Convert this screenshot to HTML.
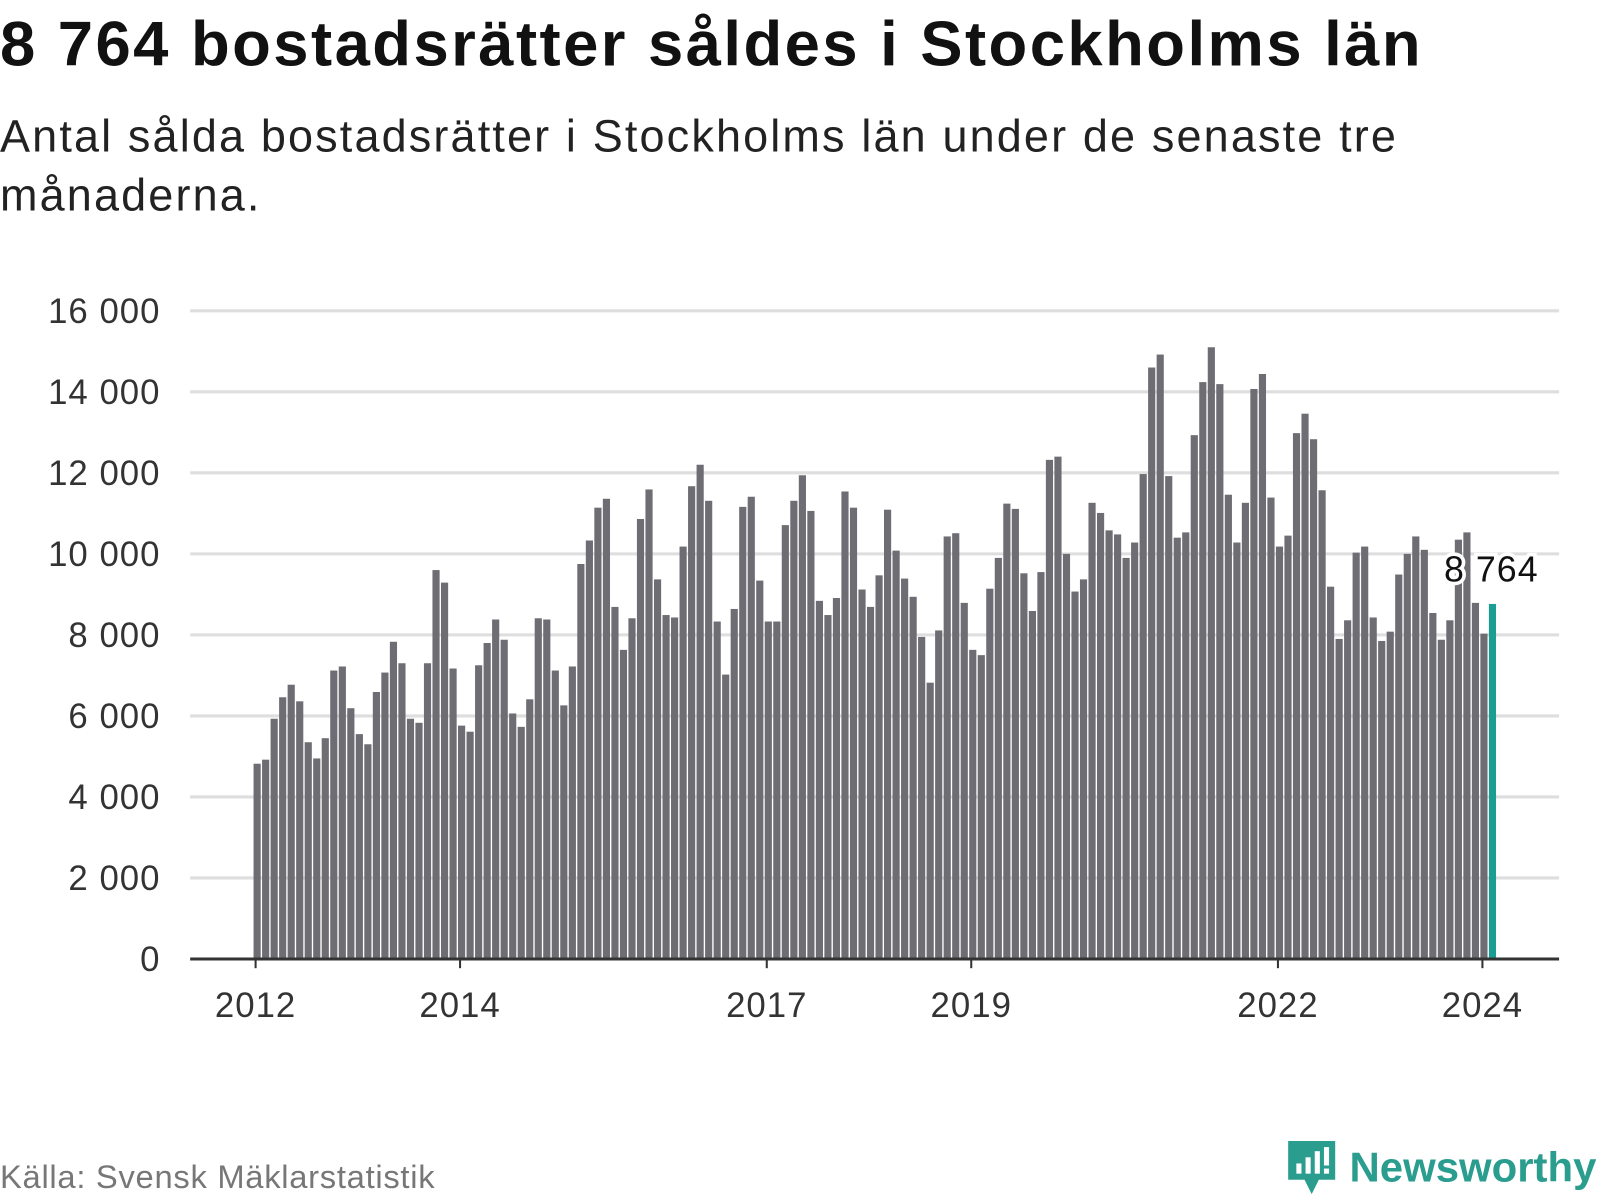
<!DOCTYPE html>
<html><head><meta charset="utf-8">
<style>
body{margin:0;background:#fff;font-family:"Liberation Sans",sans-serif;overflow:hidden;}
#outer{width:1600px;height:1200px;overflow:hidden;position:relative;}
#wrap{position:absolute;left:0;top:0;width:1565px;height:1174px;transform:scale(1.02236);transform-origin:0 0;}
h1{position:absolute;left:0;top:8px;margin:0;font-size:62px;font-weight:bold;color:#111;letter-spacing:2.4px;white-space:nowrap;}
.sub{position:absolute;left:0;top:105px;margin:0;font-size:44px;line-height:58px;color:#222;width:1400px;letter-spacing:2.1px;}
.src{position:absolute;left:0;top:1133px;font-size:32px;color:#777;letter-spacing:0.7px;}
.logo{position:absolute;left:1258px;top:1114px;font-size:41px;font-weight:bold;color:#2a9d8f;white-space:nowrap;}
</style></head><body>
<div id="outer">
<div id="wrap">
<h1>8 764 bostadsrätter såldes i Stockholms län</h1>
<p class="sub">Antal sålda bostadsrätter i Stockholms län under de senaste tre<br>månaderna.</p>
<svg id="chart" width="1565" height="1174" style="position:absolute;left:0;top:0"></svg>
<div class="src">Källa: Svensk Mäklarstatistik</div>
<div class="logo"><svg width="50" height="56" viewBox="0 0 50 56" style="vertical-align:middle;margin-right:12px"><path d="M2 2h46v38H32l-7 14-7-14H2z" fill="#2a9d8f"/><rect x="10" y="24" width="5" height="10" fill="#fff"/><rect x="19" y="18" width="5" height="16" fill="#fff"/><rect x="28" y="12" width="5" height="22" fill="#fff"/><rect x="37" y="8" width="5" height="18" fill="#fff"/><rect x="37" y="29" width="5" height="5" fill="#fff"/></svg><span style="vertical-align:middle">Newsworthy</span></div>
</div>
</div>
<script>
const values=[4820,4920,5930,6460,6770,6360,5350,4950,5450,7120,7220,6190,
5550,5300,6590,7070,7830,7300,5930,5830,7300,9600,9290,7170,
5760,5610,7250,7800,8380,7880,6060,5730,6410,8410,8380,7120,
6260,7220,9750,10330,11140,11360,8690,7630,8410,10860,11590,9370,
8490,8430,10180,11670,12200,11310,8330,7020,8640,11160,11410,9340,
8330,8330,10710,11310,11940,11060,8840,8490,8910,11540,11140,9120,
8690,9470,11090,10080,9390,8940,7950,6820,8110,10430,10510,8790,
7630,7500,9140,9900,11240,11110,9520,8590,9550,12320,12400,10000,
9070,9370,11260,11010,10580,10480,9900,10280,11970,14600,14920,11920,
10400,10530,12930,14240,15100,14190,11460,10280,11260,14070,14440,11390,
10180,10450,12980,13460,12830,11570,9190,7900,8360,10030,10180,8430,
7850,8080,9490,10000,10430,10100,8540,7880,8360,10350,10530,8790,
8030,8764];
const yTicks=[0,2000,4000,6000,8000,10000,12000,14000,16000];
const yTickLabels=["0","2 000","4 000","6 000","8 000","10 000","12 000","14 000","16 000"];
const xTickYears=[2012,2014,2017,2019,2022,2024];
const startYear=2012;
const NS="http://www.w3.org/2000/svg";
const svg=document.getElementById('chart');
const y0=938,yTop=304,yMax=16000,x2012=250,pxYear=100;
const y=v=>y0-(y0-yTop)*v/yMax;
const xm=i=>x2012+i*pxYear/12;
function mk(t,a){const e=document.createElementNS(NS,t);for(const k in a)e.setAttribute(k,a[k]);svg.appendChild(e);return e;}
yTicks.forEach((v,i)=>{
  if(v>0){const g=mk('line',{x1:186,x2:1525,y1:y(v),y2:y(v),stroke:'#dedede','stroke-width':3});
  
  }
  const t=mk('text',{x:157,y:y(v)+12,'text-anchor':'end','font-size':34,'letter-spacing':1,fill:'#333','font-family':'Liberation Sans, sans-serif'});
  t.textContent=yTickLabels[i];
  
  
});
values.forEach((v,i)=>{
  const last=i===values.length-1;
  const r=mk('rect',{x:xm(i)-2,y:y(v),width:7,height:y0-y(v),fill:last?'#1a9e93':'#6e6d73'});
  
  
});
const ax=mk('line',{x1:186,x2:1525,y1:y0,y2:y0,stroke:'#333','stroke-width':3});


xTickYears.forEach(yr=>{
  const x=x2012+(yr-startYear)*pxYear;
  const tk=mk('line',{x1:x,x2:x,y1:y0,y2:y0+9,stroke:'#333','stroke-width':2});
  
  
  const t=mk('text',{x:x,y:995,'text-anchor':'middle','font-size':34,'letter-spacing':1,fill:'#333','font-family':'Liberation Sans, sans-serif'});
  t.textContent=yr;
  
  
});
const lv=values[values.length-1];
const lbl=mk('text',{x:1505,y:y(lv)-22,'text-anchor':'end','font-size':35,'letter-spacing':1,fill:'#111',stroke:'#fff','stroke-width':7,'paint-order':'stroke','font-family':'Liberation Sans, sans-serif'});
lbl.textContent=lv.toLocaleString('sv-SE').replace(/\s/g,' ');


</script>
</body></html>
